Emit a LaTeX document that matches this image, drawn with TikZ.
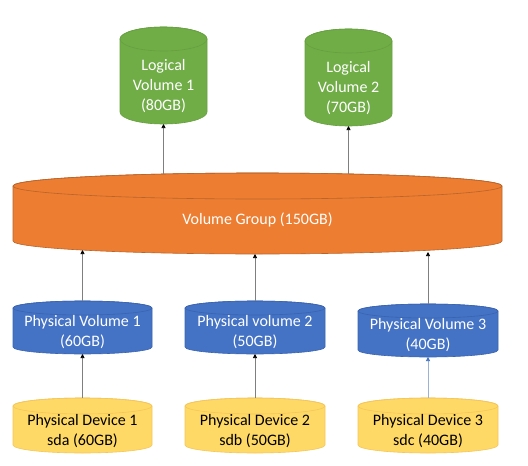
\documentclass[tikz,border=0pt]{standalone}
\usepackage{fontspec}
\setmainfont{Carlito}
\usetikzlibrary{arrows.meta}
\definecolor{lvfill}{HTML}{70AD47}
\definecolor{lvline}{HTML}{66A03F}
\definecolor{vgfill}{HTML}{ED7D31}
\definecolor{vgline}{HTML}{B8642A}
\definecolor{pvfill}{HTML}{4472C4}
\definecolor{pvline}{HTML}{3A64B0}
\definecolor{pdfill}{HTML}{FFD966}
\definecolor{pdline}{HTML}{F4C65A}
\definecolor{connline}{HTML}{7F7F7F}
\definecolor{connblue}{HTML}{9DB0D6}
\newcommand\mycyl[7]{%
  \pgfmathsetmacro\cylcx{(#1+#2)/2}%
  \pgfmathsetmacro\cylrx{(#2-#1)/2}%
  \filldraw[fill=#6,draw=#7,line width=0.6pt]
    (#1,#3+#5) -- (#1,#4-#5)
    arc[start angle=180,end angle=0,x radius=\cylrx,y radius=#5]
    -- (#2,#3+#5)
    arc[start angle=0,end angle=-180,x radius=\cylrx,y radius=#5] -- cycle;
  \draw[draw=#7,line width=0.6pt] (\cylcx,#3+#5) ellipse[x radius=\cylrx,y radius=#5];
}
\begin{document}
\begin{tikzpicture}[x=1pt,y=-1pt,
  shapebox/.style={draw=none,inner sep=0pt,outer sep=0pt},
  lbl/.style={align=center,inner sep=0pt,font=\fontsize{16}{20}\selectfont,text=white},
  dlbl/.style={lbl,text=black},
  conn/.style={draw=connline,line width=0.7pt,-{Triangle[length=4pt,width=4pt,color=black]}},
  connb/.style={draw=connblue,line width=0.7pt,-{Triangle[length=4pt,width=4pt,color=pvfill]}}]
\useasboundingbox (0,0) rectangle (528,466);
\fill[white] (0,0) rectangle (528,466);
% shapes
\mycyl{120}{207}{27}{124}{12}{lvfill}{lvline}
\mycyl{305}{392}{29}{126}{12}{lvfill}{lvline}
\mycyl{13}{502}{173}{254}{13}{vgfill}{vgline}
\mycyl{13}{152}{301}{354}{7}{pvfill}{pvline}
\mycyl{185}{325}{301}{354}{7}{pvfill}{pvline}
\mycyl{358}{498}{304}{357}{7}{pvfill}{pvline}
\mycyl{13}{152}{398}{453}{8}{pdfill}{pdline}
\mycyl{185}{325}{398}{453}{8}{pdfill}{pdline}
\mycyl{358}{498}{398}{453}{8}{pdfill}{pdline}
% named nodes covering the shapes
\node[shapebox,minimum width=87pt,minimum height=97pt] (lv1) at (163.5,75.5) {};
\node[shapebox,minimum width=87pt,minimum height=97pt] (lv2) at (348.5,77.5) {};
\node[shapebox,minimum width=489pt,minimum height=81pt] (vg) at (257.5,213.5) {};
\node[shapebox,minimum width=139pt,minimum height=53pt] (pv1) at (82.5,327.5) {};
\node[shapebox,minimum width=140pt,minimum height=53pt] (pv2) at (255,327.5) {};
\node[shapebox,minimum width=140pt,minimum height=53pt] (pv3) at (428,330.5) {};
\node[shapebox,minimum width=139pt,minimum height=55pt] (pd1) at (82.5,425.5) {};
\node[shapebox,minimum width=140pt,minimum height=55pt] (pd2) at (255,425.5) {};
\node[shapebox,minimum width=140pt,minimum height=55pt] (pd3) at (428,425.5) {};
% texts
\node[lbl] (lv1t) at (163.5,86) {Logical\\Volume 1\\(80GB)};
\node[lbl] (lv2t) at (348.5,88) {Logical\\Volume 2\\(70GB)};
\node[lbl] (vgt) at (257.5,220) {Volume Group (150GB)};
\node[lbl] (pv1t) at (82.5,332) {Physical Volume 1\\(60GB)};
\node[lbl] (pv2t) at (255,332) {Physical volume 2\\(50GB)};
\node[lbl] (pv3t) at (428,335) {Physical Volume 3\\(40GB)};
\node[dlbl] (pd1t) at (82.5,431) {Physical Device 1\\sda (60GB)};
\node[dlbl] (pd2t) at (255,431) {Physical Device 2\\sdb (50GB)};
\node[dlbl] (pd3t) at (428,431) {Physical Device 3\\sdc (40GB)};
% connector end points on the volume group ellipses
\coordinate (vgtop1) at (163.5,174);
\coordinate (vgtop2) at (348.5,174);
\coordinate (vgbot1) at (82.5,250);
\coordinate (vgbot2) at (255,254);
\coordinate (vgbot3) at (428,252);
% connectors
\draw[conn] (vgtop1) -- (lv1.south);
\draw[conn] (vgtop2) -- (lv2.south);
\draw[conn] (pv1.north) -- (vgbot1);
\draw[conn] (pv2.north) -- (vgbot2);
\draw[conn] (pv3.north) -- (vgbot3);
\draw[conn] (pd1.north) -- (pv1.south);
\draw[conn] (pd2.north) -- (pv2.south);
\draw[connb] (pd3.north) -- (pv3.south);
\end{tikzpicture}
\end{document}
